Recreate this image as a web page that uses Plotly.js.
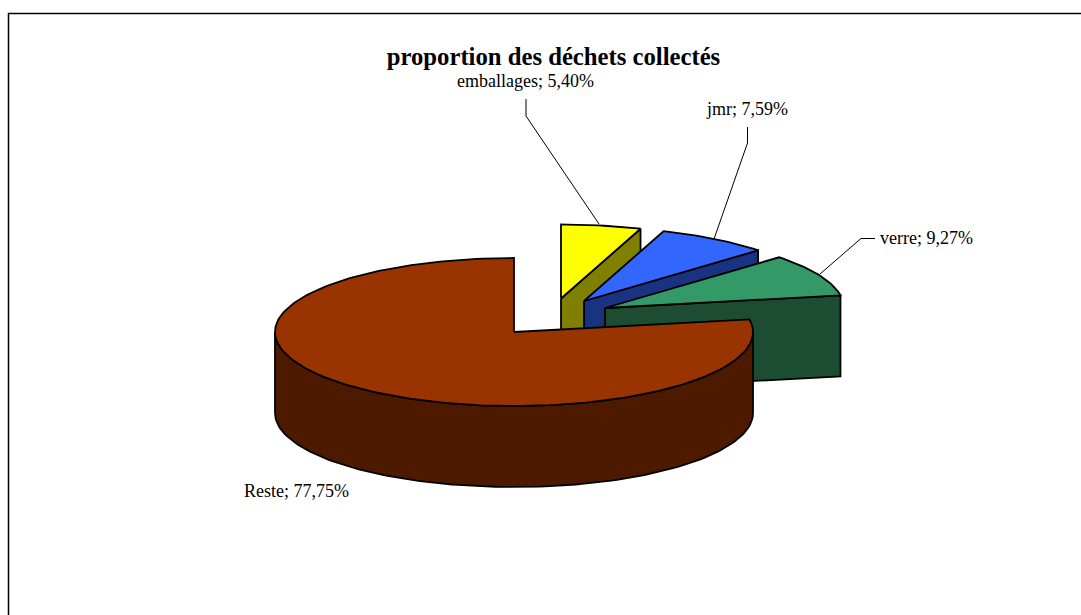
<!DOCTYPE html>
<html><head><meta charset="utf-8">
<script src="https://cdn.plot.ly/plotly-3.0.1.min.js"></script>
<style>html,body{margin:0;padding:0;background:#fff}#chart{width:1081px;height:615px}</style>
</head><body><div id="chart"></div>
<script>
// Data
const categories = ['emballages', 'jmr', 'verre', 'Reste'];
const shares = [5.40, 7.59, 9.27, 77.75];
const chartTitle = 'proportion des déchets collectés';
const topColors = ['#FFFF00', '#3366FF', '#339966', '#993300'];
const sideColors = ['#808000', '#1A3380', '#1C4D33', '#4D1A00'];

// Projection of the tilted pie: page pixels for one radius unit
const W = 1081, H = 615, CX = 514, CY = 332, RX = 239, RY = 74, DEPTH = 81 / 74;
const explodeX = [47 / RX, 70 / RX, 91 / RX, 0];
const explodeY = [33.5 / RY, 31 / RY, 24 / RY, 0];

const total = shares.reduce((a, b) => a + b, 0);
const rad = d => d * Math.PI / 180;
function arc(a0, a1, ox, oy, dz) {
  const n = Math.max(2, Math.ceil(Math.abs(a1 - a0) / 1.5));
  const xs = [], ys = [];
  for (let i = 0; i <= n; i++) {
    const a = rad(a0 + (a1 - a0) * i / n);
    xs.push(ox + Math.sin(a));
    ys.push(oy + Math.cos(a) - dz);
  }
  return [xs, ys];
}
function face(xs, ys, fill, name) {
  return {type: 'scatter', mode: 'lines', x: xs, y: ys, fill: 'toself', fillcolor: fill,
    line: {color: '#000', width: 1.8, shape: 'linear'}, name: name, hoverinfo: 'name', showlegend: false};
}
const traces = [];
let start = 0;
categories.forEach((cat, i) => {
  const sweep = shares[i] / total * 360, end = start + sweep;
  const ox = explodeX[i], oy = explodeY[i];
  const label = cat + '; ' + shares[i].toFixed(2).replace('.', ',') + '%';
  if (end < 180) {
    // cut face on the clockwise edge
    const e = rad(end);
    traces.push(face(
      [ox, ox + Math.sin(e), ox + Math.sin(e), ox, ox],
      [oy, oy + Math.cos(e), oy + Math.cos(e) - DEPTH, oy - DEPTH, oy], sideColors[i], label));
  } else {
    // outer wall across the front half
    const [tx, ty] = arc(Math.max(start, 90), Math.min(end, 270), ox, oy, 0);
    const [bx, by] = arc(Math.min(end, 270), Math.max(start, 90), ox, oy, DEPTH);
    traces.push(face(tx.concat(bx, [tx[0]]), ty.concat(by, [ty[0]]), sideColors[i], label));
  }
  const [ax, ay] = arc(start, end, ox, oy, 0);
  traces.push(face([ox].concat(ax, [ox]), [oy].concat(ay, [oy]), topColors[i], label));
  start = end;
});

// Label placement, in page pixels
const labelX = [525.5, 747, 926, 296];
const labelY = [81, 109, 238, 491];
const leaders = [
  [[526, 99], [526, 116], [599, 224]],
  [[747.5, 127], [747.5, 143], [714, 239]],
  [[875, 238.5], [861, 238.5], [820, 274]]
];
const fx = x => x / W, fy = y => 1 - y / H;
const serif = '"Liberation Serif","Times New Roman",serif';

const annotations = categories.map((cat, i) => ({
  xref: 'paper', yref: 'paper', x: fx(labelX[i]), y: fy(labelY[i]),
  xanchor: 'center', yanchor: 'middle', showarrow: false,
  text: cat + '; ' + shares[i].toFixed(2).replace('.', ',') + '%',
  font: {family: serif, size: 18, color: '#000'}
}));
const shapes = leaders.map(pts => ({
  type: 'path', xref: 'paper', yref: 'paper', layer: 'below',
  path: 'M' + pts.map(p => fx(p[0]) + ',' + fy(p[1])).join('L'),
  line: {color: '#000', width: 1}
}));
shapes.push({type: 'path', xref: 'paper', yref: 'paper', layer: 'below',
  path: `M${fx(8.5)},0L${fx(8.5)},${fy(13.5)}L1,${fy(13.5)}`, line: {color: '#000', width: 1.5}});

const layout = {
  width: W, height: H, margin: {l: 0, r: 0, t: 0, b: 0},
  paper_bgcolor: '#fff', plot_bgcolor: 'rgba(0,0,0,0)', showlegend: false,
  title: {text: '<b>' + chartTitle + '</b>', x: fx(553.5), y: fy(56), xref: 'paper', yref: 'paper',
    xanchor: 'center', yanchor: 'middle', font: {family: serif, size: 24.7, color: '#000'}},
  xaxis: {range: [-CX / RX, (W - CX) / RX], visible: false, fixedrange: true},
  yaxis: {range: [-(H - CY) / RY, CY / RY], visible: false, fixedrange: true},
  annotations, shapes
};
Plotly.newPlot('chart', traces, layout, {displayModeBar: false});
</script></body></html>
